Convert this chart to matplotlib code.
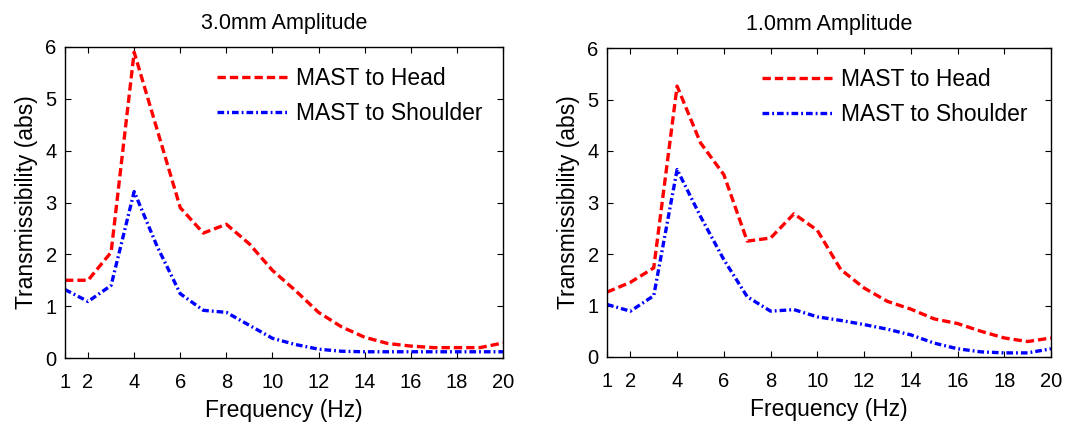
import matplotlib
matplotlib.use("Agg")
import matplotlib.pyplot as plt

plt.rcParams['font.family'] = ['Liberation Sans', 'DejaVu Sans']

freq = list(range(1, 21))
xticks = [1, 2, 4, 6, 8, 10, 12, 14, 16, 18, 20]

# 3.0 mm amplitude
head_3mm = [1.50, 1.50, 2.04, 5.90, 4.40, 2.90, 2.41, 2.58, 2.20, 1.69,
            1.30, 0.88, 0.60, 0.40, 0.28, 0.23, 0.20, 0.20, 0.20, 0.29]
shoulder_3mm = [1.32, 1.09, 1.40, 3.21, 2.15, 1.24, 0.92, 0.88, 0.63, 0.38,
                0.26, 0.17, 0.13, 0.12, 0.12, 0.12, 0.12, 0.12, 0.12, 0.12]

# 1.0 mm amplitude
head_1mm = [1.26, 1.45, 1.73, 5.26, 4.16, 3.54, 2.25, 2.31, 2.78, 2.46,
            1.70, 1.34, 1.08, 0.93, 0.74, 0.65, 0.50, 0.37, 0.30, 0.37]
shoulder_1mm = [1.02, 0.89, 1.19, 3.64, 2.73, 1.89, 1.17, 0.89, 0.92, 0.78,
                0.71, 0.63, 0.54, 0.43, 0.27, 0.16, 0.10, 0.08, 0.08, 0.16]

titles = ["3.0mm Amplitude", "1.0mm Amplitude"]
series = [(head_3mm, shoulder_3mm), (head_1mm, shoulder_1mm)]

fig = plt.figure(figsize=(10.71, 4.25), dpi=100)
rects = [[65 / 1071, 67 / 425, 438 / 1071, 311 / 425],
         [607 / 1071, 68 / 425, 444 / 1071, 309 / 425]]
legend_x = [0.347, 0.349]

for rect, lx, title, (head, shoulder) in zip(rects, legend_x, titles, series):
    ax = fig.add_axes(rect)
    ax.plot(freq, head, color='#ff0000', lw=2.4, linestyle=(0, (2.5, 1.2)),
            label='MAST to Head')
    ax.plot(freq, shoulder, color='#0000ff', lw=2.4,
            linestyle=(0, (2.0, 0.9, 0.55, 0.9)), label='MAST to Shoulder')
    ax.set_xlim(1, 20)
    ax.set_ylim(0, 6)
    ax.set_xticks(xticks)
    ax.set_yticks(range(0, 7))
    ax.tick_params(direction='in', length=4, width=0.8, labelsize=14.5,
                   top=True, right=True)
    ax.tick_params(axis='x', pad=11)
    ax.tick_params(axis='y', pad=6)
    for s in ax.spines.values():
        s.set_linewidth(1.0)
    ax.set_title(title, fontsize=15.5, pad=13)
    ax.set_xlabel('Frequency (Hz)', fontsize=16.5, labelpad=5)
    ax.set_ylabel('Transmissibility (abs)', fontsize=16.5, labelpad=5)
    ax.legend(loc='upper left', bbox_to_anchor=(lx, 0.935), frameon=False,
              fontsize=16.5, handlelength=3.1, handletextpad=0.35,
              labelspacing=0.5, borderaxespad=0.0, borderpad=0.0)

fig.savefig('out.png', dpi=100)
